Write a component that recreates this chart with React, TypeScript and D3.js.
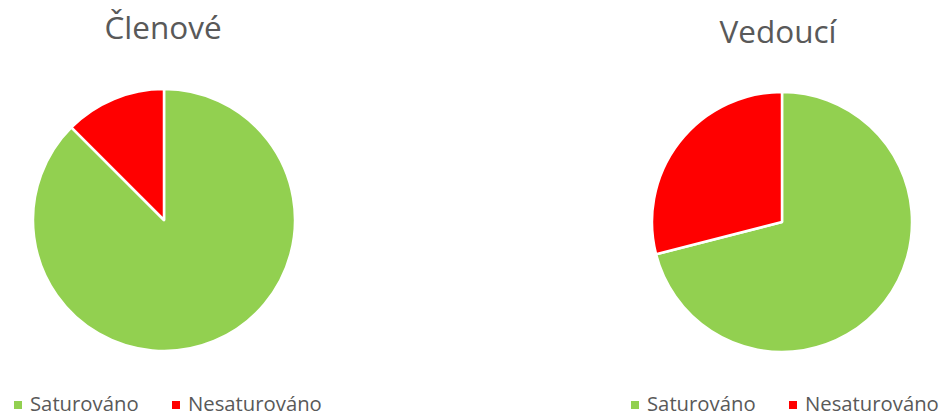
import React from "react";
import * as d3 from "d3";

const categories = ["Saturováno", "Nesaturováno"];
const colors = ["#92D050", "#FF0000"];
const chartTitles = ["Členové", "Vedoucí"];
const clenoveValues = [87.5, 12.5];
const vedouciValues = [71, 29];

const W = 952;
const H = 417;

function Pie({ values, cx, cy, r }: { values: number[]; cx: number; cy: number; r: number }) {
  const pie = d3.pie<number>().sort(null).value((d) => d);
  const arc = d3.arc<d3.PieArcDatum<number>>().innerRadius(0).outerRadius(r);
  return (
    <g transform={`translate(${cx},${cy})`}>
      {pie(values).map((d, i) => (
        <path key={i} d={arc(d) || ""} fill={colors[i]} stroke="#fff" strokeWidth={2.5} strokeLinejoin="round" />
      ))}
    </g>
  );
}

function Legend({ x, y, gap }: { x: number; y: number; gap: number }) {
  return (
    <g>
      {categories.map((c, i) => {
        const lx = x + i * gap;
        return (
          <g key={c}>
            <rect x={lx} y={y - 10} width={8} height={8} fill={colors[i]} />
            <text x={lx + 16} y={y} fontSize={20.3} fill="#595959" fontFamily="'Open Sans', sans-serif">
              {c}
            </text>
          </g>
        );
      })}
    </g>
  );
}

export default function App() {
  return (
    <svg width={W} height={H} style={{ position: "absolute", left: 0, top: 0, background: "#fff" }}>
      <text x={163} y={39} textAnchor="middle" fontSize={31.5} fill="#595959" fontFamily="'Open Sans', sans-serif">
        {chartTitles[0]}
      </text>
      <text x={778} y={43} textAnchor="middle" fontSize={31.5} fill="#595959" fontFamily="'Open Sans', sans-serif">
        {chartTitles[1]}
      </text>
      <Pie values={clenoveValues} cx={164} cy={220} r={131} />
      <Pie values={vedouciValues} cx={782} cy={222} r={130} />
      <Legend x={14} y={411} gap={158} />
      <Legend x={631} y={411} gap={158} />
    </svg>
  );
}
